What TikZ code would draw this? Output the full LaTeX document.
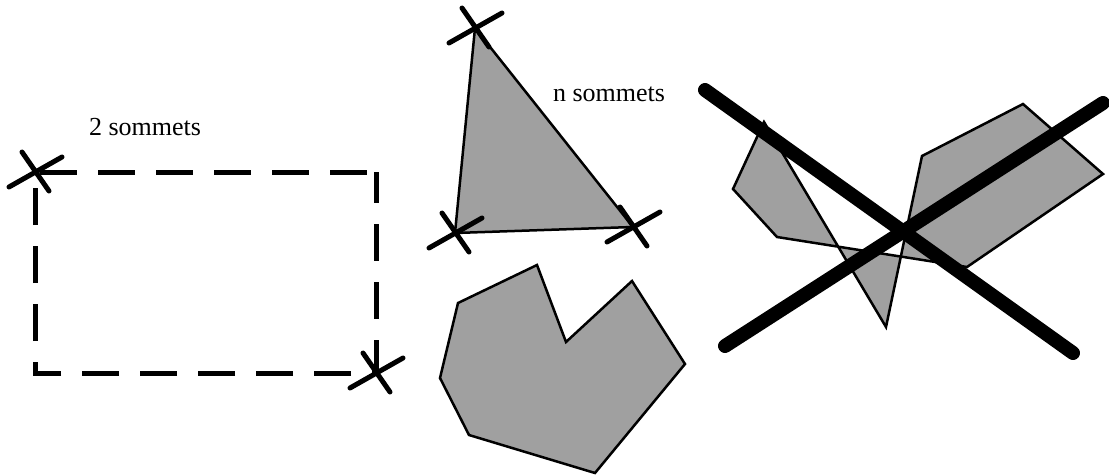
\documentclass[tikz,border=0pt]{standalone}
\usepackage{fontspec}
\setmainfont{Liberation Serif}
\begin{document}
\begin{tikzpicture}[x=1pt,y=-1pt,
  shapeline/.style={draw=black,line width=2.5pt,line join=miter,fill=shapegray},
  crossline/.style={line width=5pt,line cap=round},
  strikeline/.style={line width=14pt,line cap=round},
  rectline/.style={line width=5pt,dash pattern=on 37pt off 21pt,dash phase=6pt,line cap=butt},
  lbl/.style={font=\fontsize{26}{30}\selectfont,inner sep=0pt},
  vx/.pic={\draw[crossline] (-26,15)--(27,-15) (-13,-20)--(14,19);}]
\definecolor{shapegray}{HTML}{A0A0A0}
\useasboundingbox (0,0) rectangle (1109,475);
% rectangle with 2 vertices
\coordinate (r1) at (35,172);
\coordinate (r2) at (376,373);
\draw[rectline] (r2 |- r1) -- (r2) -- (r1 |- r2) -- (r1) -- cycle;
\pic at (r1) {vx};
\pic at (r2) {vx};
\node[lbl] (t2) at (145,127) {2 sommets};
% triangle with n vertices
\coordinate (ta) at (475,28);
\coordinate (tb) at (455,233);
\coordinate (tc) at (633,227);
\draw[shapeline] (ta) -- (tb) -- (tc) -- cycle;
\pic at (ta) {vx};
\pic at (tb) {vx};
\pic at (tc) {vx};
\node[lbl] (tn) at (609,94) {n sommets};
% concave polygon
\draw[shapeline] (458,303) -- (537,265) -- (566,342) -- (632,281) -- (685,364)
  -- (595,473) -- (469,435) -- (440,378) -- cycle;
% self-intersecting polygon
\coordinate (pa) at (764,122);
\coordinate (pb) at (733,189);
\coordinate (pc) at (777,237);
\coordinate (pe) at (967,267);
\coordinate (pf) at (1103,174);
\coordinate (pg) at (1023,104);
\coordinate (ph) at (922,156);
\coordinate (ps) at (886,327);
\draw[shapeline] (pa) -- (pb) -- (pc) -- (pe) -- (pf) -- (pg) -- (ph) -- (ps) -- cycle;
% strike-through X
\coordinate (x1) at (705,90);
\coordinate (x2) at (1073,353);
\coordinate (x3) at (725,346);
\coordinate (x4) at (1103,103);
\draw[strikeline] (x1) -- (x2);
\draw[strikeline] (x3) -- (x4);
\end{tikzpicture}
\end{document}
